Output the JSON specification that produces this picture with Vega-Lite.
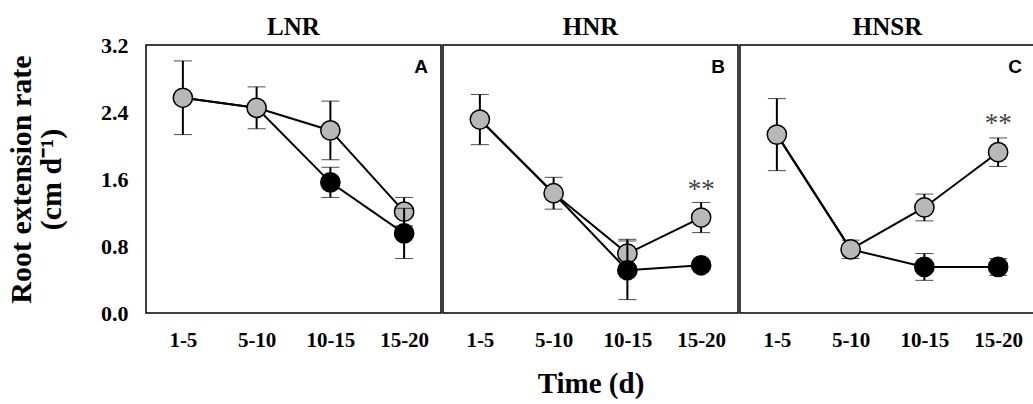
{
  "$schema": "https://vega.github.io/schema/vega-lite/v6.json",
  "padding": {"left": 6, "top": 15, "right": 3, "bottom": 3},
  "background": "white",
  "data": {"values": [
    {"panel": "LNR", "time": "1-5", "series": "gray", "value": 2.57, "err": 0.44},
    {"panel": "LNR", "time": "5-10", "series": "gray", "value": 2.45, "err": 0.25},
    {"panel": "LNR", "time": "10-15", "series": "gray", "value": 2.18, "err": 0.35},
    {"panel": "LNR", "time": "15-20", "series": "gray", "value": 1.21, "err": 0.17, "letter": "A"},
    {"panel": "LNR", "time": "1-5", "series": "black", "value": 2.57, "err": 0.44},
    {"panel": "LNR", "time": "5-10", "series": "black", "value": 2.45, "err": 0.25},
    {"panel": "LNR", "time": "10-15", "series": "black", "value": 1.56, "err": 0.18},
    {"panel": "LNR", "time": "15-20", "series": "black", "value": 0.95, "err": 0.30},
    {"panel": "HNR", "time": "1-5", "series": "gray", "value": 2.31, "err": 0.30},
    {"panel": "HNR", "time": "5-10", "series": "gray", "value": 1.43, "err": 0.19},
    {"panel": "HNR", "time": "10-15", "series": "gray", "value": 0.71, "err": 0.17},
    {"panel": "HNR", "time": "15-20", "series": "gray", "value": 1.14, "err": 0.18, "letter": "B", "sig": "**"},
    {"panel": "HNR", "time": "1-5", "series": "black", "value": 2.31, "err": 0.30},
    {"panel": "HNR", "time": "5-10", "series": "black", "value": 1.43, "err": 0.19},
    {"panel": "HNR", "time": "10-15", "series": "black", "value": 0.51, "err": 0.35},
    {"panel": "HNR", "time": "15-20", "series": "black", "value": 0.57, "err": 0.05},
    {"panel": "HNSR", "time": "1-5", "series": "gray", "value": 2.13, "err": 0.43},
    {"panel": "HNSR", "time": "5-10", "series": "gray", "value": 0.76, "err": 0.11},
    {"panel": "HNSR", "time": "10-15", "series": "gray", "value": 1.26, "err": 0.16},
    {"panel": "HNSR", "time": "15-20", "series": "gray", "value": 1.92, "err": 0.17, "letter": "C", "sig": "**"},
    {"panel": "HNSR", "time": "1-5", "series": "black", "value": 2.13, "err": 0.43},
    {"panel": "HNSR", "time": "5-10", "series": "black", "value": 0.76, "err": 0.11},
    {"panel": "HNSR", "time": "10-15", "series": "black", "value": 0.55, "err": 0.16},
    {"panel": "HNSR", "time": "15-20", "series": "black", "value": 0.55, "err": 0.10}
  ]},
  "spacing": 0,
  "facet": {
    "column": {
      "field": "panel",
      "type": "nominal",
      "sort": ["LNR", "HNR", "HNSR"],
      "title": "Time (d)",
      "header": {
        "labelOrient": "top",
        "titleOrient": "bottom",
        "labelFont": "Liberation Serif",
        "labelFontWeight": "bold",
        "labelFontSize": 25,
        "labelColor": "black",
        "labelPadding": 4,
        "titleFont": "Liberation Serif",
        "titleFontWeight": "bold",
        "titleFontSize": 29,
        "titleColor": "black",
        "titlePadding": 10
      }
    }
  },
  "spec": {
    "width": 295,
    "height": 268,
    "encoding": {
      "x": {
        "field": "time",
        "type": "ordinal",
        "sort": ["1-5", "5-10", "10-15", "15-20"],
        "scale": {"type": "point", "padding": 0.5},
        "axis": {"title": null, "labelAngle": 0, "labelPadding": 15, "labelFontSize": 21}
      },
      "y": {
        "field": "value",
        "type": "quantitative",
        "scale": {"domain": [0, 3.2], "nice": false, "zero": true},
        "axis": {
          "title": ["Root extension rate", "(cm d\u207b\u00b9)"],
          "values": [0, 0.8, 1.6, 2.4, 3.2],
          "format": ".1f",
          "labelFontSize": 22,
          "labelPadding": 17,
          "titleFontSize": 30,
          "titleLineHeight": 30,
          "titlePadding": 34
        }
      }
    },
    "layer": [
      {
        "transform": [{"filter": "datum.series == 'black'"}],
        "mark": {"type": "line", "color": "black", "strokeWidth": 2}
      },
      {
        "transform": [{"filter": "datum.series == 'gray'"}],
        "mark": {"type": "line", "color": "black", "strokeWidth": 2}
      },
      {
        "transform": [{"filter": "datum.series == 'gray'"}],
        "mark": {"type": "errorbar", "ticks": {"size": 18, "color": "black", "strokeWidth": 2}, "rule": {"color": "black", "strokeWidth": 2}},
        "encoding": {"yError": {"field": "err"}}
      },
      {
        "transform": [{"filter": "datum.series == 'gray'"}],
        "mark": {"type": "circle", "size": 370, "fill": "#b8b8b8", "stroke": "black", "strokeWidth": 1.5, "opacity": 1}
      },
      {
        "transform": [{"filter": "datum.series == 'black' && (datum.time == '10-15' || datum.time == '15-20')"}],
        "mark": {"type": "errorbar", "ticks": {"size": 18, "color": "black", "strokeWidth": 2}, "rule": {"color": "black", "strokeWidth": 2}},
        "encoding": {"yError": {"field": "err"}}
      },
      {
        "transform": [{"filter": "datum.series == 'black' && (datum.time == '10-15' || datum.time == '15-20')"}],
        "mark": {"type": "circle", "size": 370, "fill": "black", "stroke": "black", "strokeWidth": 1.5, "opacity": 1}
      },
      {
        "transform": [{"filter": "datum.sig"}],
        "mark": {"type": "text", "dy": -28, "font": "Liberation Serif", "fontSize": 27, "color": "#444444", "baseline": "middle"},
        "encoding": {"text": {"field": "sig"}}
      },
      {
        "transform": [{"filter": "datum.letter"}],
        "mark": {"type": "text", "dx": 17, "font": "Liberation Sans", "fontWeight": "bold", "fontSize": 19, "color": "black", "baseline": "middle"},
        "encoding": {"text": {"field": "letter"}, "y": {"datum": 2.94}}
      }
    ]
  },
  "config": {
    "view": {"stroke": "black", "strokeWidth": 1.5},
    "axis": {
      "grid": false,
      "ticks": false,
      "domain": false,
      "labelFont": "Liberation Serif",
      "labelFontWeight": "bold",
      "labelColor": "black",
      "titleFont": "Liberation Serif",
      "titleFontWeight": "bold",
      "titleColor": "black"
    }
  }
}
